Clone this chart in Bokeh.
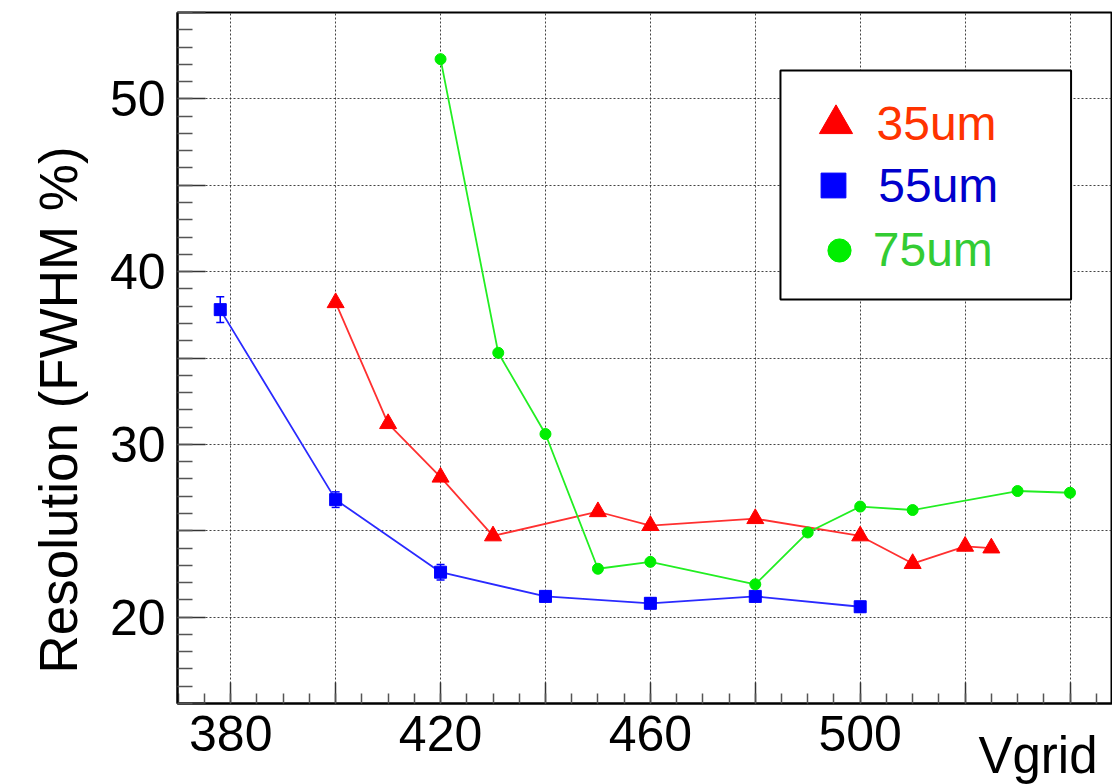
from bokeh.plotting import figure
from bokeh.models import (ColumnDataSource, SingleIntervalTicker, Range1d, Whisker, TeeHead,
                          Legend, LegendItem, Title, BoxAnnotation)
from bokeh.embed import file_html
from bokeh.resources import INLINE

# ---- data ----
v35 = [400, 410, 420, 430, 450, 460, 480, 500, 510, 520, 525]
r35 = [38.2, 31.2, 28.1, 24.7, 26.1, 25.3, 25.7, 24.7, 23.1, 24.1, 24.0]

v55 = [378, 400, 420, 440, 460, 480, 500]
r55 = [37.8, 26.8, 22.6, 21.2, 20.8, 21.2, 20.6]
e55 = [0.75, 0.45, 0.45, 0.3, 0.3, 0.3, 0.3]

v75 = [420, 431, 440, 450, 460, 480, 490, 500, 510, 530, 540]
r75 = [52.3, 35.3, 30.6, 22.8, 23.2, 21.9, 24.9, 26.4, 26.2, 27.3, 27.2]

x_labels = {380: "380", 420: "420", 460: "460", 500: "500"}
y_labels = {20: "20", 30: "30", 40: "40", 50: "50"}
series_names = ["35um", "55um", "75um"]
x_title = "Vgrid"
y_title = "Resolution (FWHM %)"

FONT = "Liberation Sans"

p = figure(width=1112, height=784, output_backend="svg", toolbar_location=None,
           x_range=Range1d(369.85, 548.1), y_range=Range1d(15, 55),
           min_border_left=177, min_border_right=0, min_border_top=12, min_border_bottom=81)
p.background_fill_color = "white"
p.border_fill_color = "white"
p.outline_line_color = "black"
p.outline_line_width = 2

# axes
xt = SingleIntervalTicker(interval=20, num_minor_ticks=4)
yt = SingleIntervalTicker(interval=5, num_minor_ticks=5)
p.xaxis.ticker = xt
p.yaxis.ticker = yt
p.xgrid.ticker = xt
p.ygrid.ticker = yt

p.xaxis.major_label_overrides = {t: x_labels.get(t, "") for t in range(360, 561, 20)}
p.yaxis.major_label_overrides = {t: y_labels.get(t, "") for t in range(10, 61, 5)}

for ax in (p.xaxis, p.yaxis):
    ax.axis_line_color = "black"
    ax.axis_line_width = 2
    ax.major_tick_out = 0
    ax.minor_tick_out = 0
    ax.major_tick_line_color = "#333333"
    ax.minor_tick_line_color = "#555555"
    ax.major_tick_line_width = 1.5
    ax.minor_tick_line_width = 1.5
    ax.major_label_text_font = FONT
    ax.major_label_text_font_size = "50px"
    ax.major_label_text_color = "black"
p.xaxis.major_tick_in = 21
p.xaxis.minor_tick_in = 10
p.yaxis.major_tick_in = 28
p.yaxis.minor_tick_in = 15
p.xaxis.major_label_standoff = 12
p.yaxis.major_label_standoff = 12

for g in (p.xgrid, p.ygrid):
    g.grid_line_color = "#222222"
    g.grid_line_alpha = 0.85
    g.grid_line_width = 1
    g.grid_line_dash = "2 2"

# sources
s35 = ColumnDataSource(dict(x=v35, y=r35))
s55 = ColumnDataSource(dict(x=v55, y=r55,
                            lo=[a - b for a, b in zip(r55, e55)],
                            hi=[a + b for a, b in zip(r55, e55)]))
s75 = ColumnDataSource(dict(x=v75, y=r75))

# 55um (blue)
p.line("x", "y", source=s55, line_color="#2a2aff", line_width=1.8)
wk = Whisker(source=s55, base="x", lower="lo", upper="hi", line_color="blue", line_width=1.5,
             upper_head=TeeHead(size=8, line_color="blue", line_width=1.5),
             lower_head=TeeHead(size=8, line_color="blue", line_width=1.5))
p.add_layout(wk)
rb = p.scatter("x", "y", source=s55, marker="square", size=12, fill_color="blue", line_color="blue")

# 35um (red)
p.line("x", "y", source=s35, line_color="#ff3030", line_width=1.8)
rr = p.scatter("x", "y", source=s35, marker="triangle", size=17, fill_color="red", line_color="red")

# 75um (green)
p.line("x", "y", source=s75, line_color="#22ee22", line_width=1.8)
rg = p.scatter("x", "y", source=s75, marker="circle", size=11, fill_color="#00ee00", line_color="#00ee00")

# legend box
box = BoxAnnotation(left=484.8, right=540.2, top=51.64, bottom=38.39,
                    fill_color="white", fill_alpha=1.0, line_color="black", line_alpha=1.0,
                    line_width=2, level="annotation")
p.add_layout(box)

legend_specs = [
    (series_names[0], rr, "#ff3300", 83, 0, (616.5, 538.5)),
    (series_names[1], rb, "#0000cc", 62.5, 14, (625.25, 486.75)),
    (series_names[2], rg, "#33cc33", 57.5, 5, (632.75, 424.25)),
]
for name, rend, col, gsz, stand, loc in legend_specs:
    lg = Legend(items=[LegendItem(label=name, renderers=[rend])], location=loc,
                glyph_width=int(round(gsz)), glyph_height=int(round(gsz)), label_standoff=stand,
                label_text_font=FONT, label_text_font_size="48px", label_text_color=col,
                padding=0, margin=0, spacing=0, border_line_color=None,
                background_fill_alpha=0.0)
    p.add_layout(lg, "center")

# axis titles (as side-panel titles so they can be aligned like ROOT's)
p.add_layout(Title(text=y_title, align="left", offset=30, standoff=34, vertical_align="top",
                   text_line_height=0.6,
                   text_font=FONT, text_font_size="53px", text_font_style="normal",
                   text_color="black"), "left")
p.add_layout(Title(text=x_title, align="right", offset=15, standoff=-58,
                   text_font=FONT, text_font_size="51px", text_font_style="normal",
                   text_color="black"), "below")

open("out.html", "w").write(file_html(p, INLINE))
